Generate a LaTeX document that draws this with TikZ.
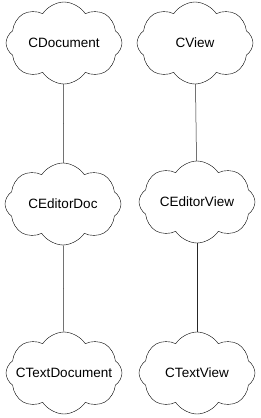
\documentclass[tikz,border=0pt]{standalone}
\usepackage{fontspec}
\setmainfont{Liberation Sans}
\usetikzlibrary{shapes.symbols, positioning}

\newcommand{\clsname}[1]{\makebox[0pt]{#1}}

\begin{document}
\begin{tikzpicture}[
    x=1pt, y=-1pt,
    cls/.style={cloud, cloud puffs=8, cloud puff arc=115, aspect=1.4, draw=black, thin, fill=white, inner sep=0pt, minimum width=116pt, minimum height=82pt, font=\fontsize{13.5}{16}\selectfont},
    link/.style={draw=black!85, line width=0.5pt}
]
\useasboundingbox (0,0) rectangle (260,418);

% DOCUMENT HIERARCHY
\node[cls] (cdoc) at (64, 43) {\clsname{CDocument}};
\node[cls] (ceditdoc) at (63, 204) {\clsname{CEditorDoc}};
\node[cls] (ctextdoc) at (64, 373) {\clsname{CTextDocument}};

% VIEW HIERARCHY
\node[cls] (cview) at (195, 43) {\clsname{CView}};
\node[cls] (ceditview) at (197, 202) {\clsname{CEditorView}};
\node[cls] (ctextview) at (197, 373) {\clsname{CTextView}};

\draw[link] (cdoc) -- (ceditdoc);
\draw[link] (ceditdoc) -- (ctextdoc);
\draw[link] (cview) -- (ceditview);
\draw[link] (ceditview) -- (ctextview);

\end{tikzpicture}
\end{document}
